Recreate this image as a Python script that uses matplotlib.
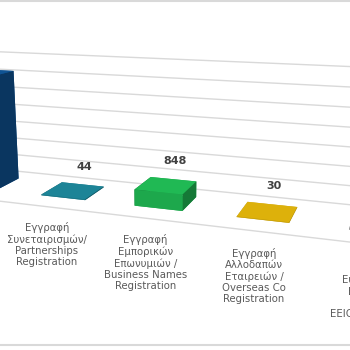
import matplotlib
matplotlib.use('Agg')
import matplotlib.pyplot as plt
import matplotlib.colors as mcolors
from matplotlib.lines import Line2D
from mpl_toolkits.mplot3d import proj3d

categories = [
    'Εγγραφή\nΕταιρειών /\nCompanies\nRegistration',
    'Εγγραφή\nΣυνεταιρισμών/\nPartnerships\nRegistration',
    'Εγγραφή\nΕμπορικών\nΕπωνυμιών /\nBusiness Names\nRegistration',
    'Εγγραφή\nΑλλοδαπών\nΕταιρειών /\nOverseas Co\nRegistration',
    'Εγγραφή\nΕυρωπαϊκών\nΕταιρειών\nΕΟΟΣ /\nEEIG Registration',
]
values = [6150, 44, 848, 30, 2]
value_labels = ['6150', '44', '848', '30', '2']
colors = ['#0E4B86', '#1A7889', '#1DA84C', '#C9A10A', '#8C8C8C']
grid_values = list(range(0, 8000, 1000))

W = 350  # output size in px
fig = plt.figure(figsize=(3.5, 3.5), dpi=100)
ax = fig.add_axes([0, 0, 1, 1], projection='3d', computed_zorder=False)
ax.set_proj_type('persp', focal_length=0.25)
ax.view_init(elev=13, azim=-71)
ax.set_box_aspect((5, 1.0, 1.33))
ax.set_xlim(-0.5, 4.5)
ax.set_ylim(0, 1)
ax.set_zlim(0, 7000)
ax.set_axis_off()

# the original is a crop of a wider chart: place the 3D view so that the
# floor under the 2nd and 4th bars lands where it is in the crop
def axes_frac(x, y, z):
    X, Y, _ = proj3d.proj_transform(x, y, z, ax.get_proj())
    return ax.transLimits.transform((X, Y))

u1, v1 = axes_frac(1, 0.5, 0)
u3, v3 = axes_frac(3, 0.5, 0)
L = (267 - 72) / W / (u3 - u1)
left = 72 / W - L * u1
bottom = ((1 - 193 / W - L * v1) + (1 - 212 / W - L * v3)) / 2
ax.set_position([left, bottom, L, L])

# back wall gridlines and floor edge
for g in grid_values:
    ax.plot([-0.5, 4.5], [1, 1], [g, g], color='#d9d9d9', lw=1.0, zorder=1)
ax.plot([-0.5, 4.5], [0, 0], [0, 0], color='#d9d9d9', lw=1.0, zorder=1)

def shade(c, k):
    r, g, b = mcolors.to_rgb(c)
    return (min(r * k, 1), min(g * k, 1), min(b * k, 1))

for i, v in enumerate(values):
    c = colors[i]
    # faces: bottom, top, front, back, left, right
    faces = [c, shade(c, 1.1), c, c, shade(c, 0.72), shade(c, 0.72)]
    ax.bar3d(i - 0.24, 0.3, 0, 0.48, 0.45, v, color=faces, shade=False, zorder=2)
    if i > 0:  # label of the first bar lies outside the crop
        ax.text(i, 0.8, v + 900, value_labels[i], ha='center', va='center',
                fontsize=8, fontweight='bold', color='#404040', zorder=3)
    ax.text(i, -0.05, -700, categories[i], ha='center', va='top',
            fontsize=7.3, color='#595959', linespacing=1.15, zorder=3)

fig.add_artist(Line2D([0, 1], [0.997, 0.997], color='#d9d9d9', lw=1.5))
fig.add_artist(Line2D([0, 1], [0.015, 0.015], color='#d9d9d9', lw=1.5))

fig.savefig('out.png', dpi=100)
